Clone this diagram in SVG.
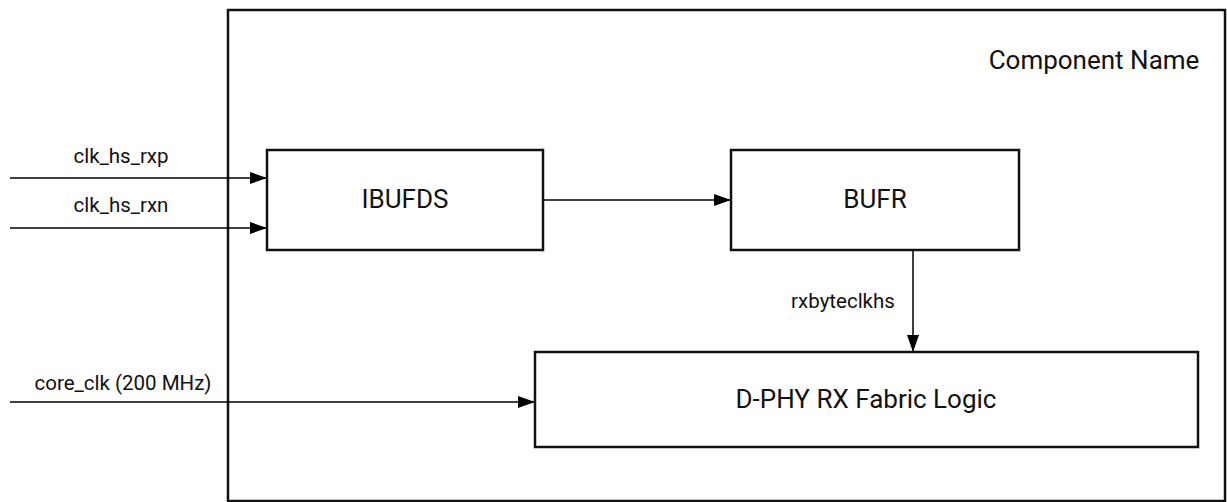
<svg xmlns="http://www.w3.org/2000/svg" width="1227" height="502" viewBox="0 0 1227 502">
  <style>
    .box { fill: #ffffff; stroke: #111111; stroke-width: 2.5; }
    .frame { fill: #ffffff; stroke: #111111; stroke-width: 2.5; }
    .wire { fill: none; stroke: #000000; stroke-width: 1.5; }
    .big { font-family: Roboto, "Liberation Sans", sans-serif; font-size: 26px; fill: #111111; text-anchor: middle; }
    .small { font-family: Roboto, "Liberation Sans", sans-serif; font-size: 20.5px; fill: #111111; text-anchor: middle; }
  </style>
  <defs>
    <marker id="arrow" markerWidth="17" markerHeight="12" refX="17" refY="6" orient="auto" markerUnits="userSpaceOnUse">
      <path d="M0,0 L17,6 L0,12 Z" fill="#000000"/>
    </marker>
  </defs>
  <rect width="1227" height="502" fill="#ffffff"/>
  <g id="component">
    <rect class="frame" x="228" y="10" width="997" height="491"/>
    <text class="big" x="1094" y="69">Component Name</text>
  </g>
  <g id="connectors">
    <line class="wire" x1="10" y1="178" x2="267" y2="178" marker-end="url(#arrow)"/>
    <line class="wire" x1="10" y1="228" x2="267" y2="228" marker-end="url(#arrow)"/>
    <line class="wire" x1="543" y1="200" x2="731" y2="200" marker-end="url(#arrow)"/>
    <line class="wire" x1="913" y1="250" x2="913" y2="352" marker-end="url(#arrow)"/>
    <line class="wire" x1="10" y1="402" x2="535" y2="402" marker-end="url(#arrow)"/>
    <text class="small" x="121" y="163">clk_hs_rxp</text>
    <text class="small" x="121" y="212">clk_hs_rxn</text>
    <text class="small" x="123" y="390">core_clk (200 MHz)</text>
    <text class="small" x="843" y="308">rxbyteclkhs</text>
  </g>
  <g id="ibufds">
    <rect class="box" x="267" y="150" width="276" height="100"/>
    <text class="big" x="405" y="208">IBUFDS</text>
  </g>
  <g id="bufr">
    <rect class="box" x="731" y="150" width="288" height="100"/>
    <text class="big" x="875" y="208">BUFR</text>
  </g>
  <g id="dphy">
    <rect class="box" x="535" y="352" width="663" height="95"/>
    <text class="big" x="866" y="408">D-PHY RX Fabric Logic</text>
  </g>
</svg>
